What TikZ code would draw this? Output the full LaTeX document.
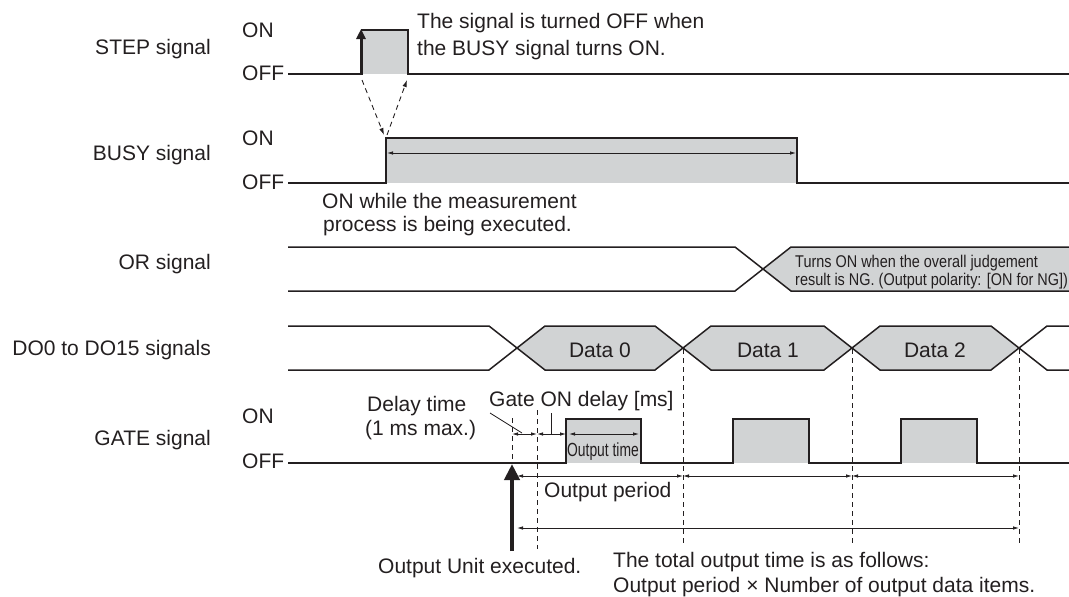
\documentclass[tikz,border=0pt]{standalone}
\usepackage{fontspec}
\setmainfont{Liberation Sans}
\newfontfamily\narrowA[FakeStretch=0.85]{Liberation Sans}
\newfontfamily\narrowB[FakeStretch=0.73]{Liberation Sans}
\usetikzlibrary{arrows.meta}
\definecolor{ink}{HTML}{231F20}
\definecolor{sgray}{HTML}{D1D3D4}
\begin{document}
\begin{tikzpicture}[x=1pt,y=-1pt,
  sig/.style={draw=ink,line width=1.5pt,line join=miter},
  dim/.style={draw=ink,line width=0.8pt,{Latex[length=6pt,width=3.5pt]}-{Latex[length=6pt,width=3.5pt]}},
  vdash/.style={draw=ink,line width=0.9pt,dash pattern=on 5pt off 4pt},
  thin/.style={draw=ink,line width=0.8pt},
  lbl/.style={font=\fontsize{21pt}{26pt}\selectfont,text=ink,inner sep=0pt},
  orlbl/.style={font=\narrowA\fontsize{17pt}{20pt}\selectfont,text=ink,inner sep=0pt},
  otlbl/.style={font=\narrowB\fontsize{19pt}{22pt}\selectfont,text=ink,inner sep=0pt}
]
\useasboundingbox (0,0) rectangle (1069,597);

% ---------- left labels ----------
\node[lbl,anchor=base east] (lstep) at (211,54) {STEP signal};
\node[lbl,anchor=base east] (lbusy) at (211,160) {BUSY signal};
\node[lbl,anchor=base east] (lor) at (211,269) {OR signal};
\node[lbl,anchor=base east] (ldo) at (211,355) {DO0 to DO15 signals};
\node[lbl,anchor=base east] (lgate) at (211,445) {GATE signal};
\node[lbl,anchor=base west] (stepon) at (242,37) {ON};
\node[lbl,anchor=base west] (stepoff) at (242,80) {OFF};
\node[lbl,anchor=base west] (busyon) at (242,145) {ON};
\node[lbl,anchor=base west] (busyoff) at (242,189) {OFF};
\node[lbl,anchor=base west] (gateon) at (242,423) {ON};
\node[lbl,anchor=base west] (gateoff) at (242,468) {OFF};

% ---------- STEP ----------
\fill[sgray] (361,30) rectangle (408,74);
\draw[sig] (288,74) -- (361,74) (361,30) -- (408,30) -- (408,74) -- (1069,74);
\coordinate (stepbot) at (361,75);
\coordinate (steptop) at (361,29);
\draw[ink,line width=3pt,-{Triangle[length=10pt,width=9pt]}] (stepbot) -- (steptop);
\node[lbl,anchor=base west] (note1a) at (417,28) {The signal is turned OFF when};
\node[lbl,anchor=base west] (note1b) at (417,55) {the BUSY signal turns ON.};

% dashed causal arrows
\coordinate (sL) at (362,80);
\coordinate (bR1) at (384,135);
\coordinate (bR2) at (387,135);
\coordinate (sR) at (407,80);
\draw[vdash,-{Latex[length=7pt,width=4.5pt]}] (sL) -- (bR1);
\draw[vdash,-{Latex[length=7pt,width=4.5pt]}] (bR2) -- (sR);

% ---------- BUSY ----------
\fill[sgray] (386,138) rectangle (797,183);
\draw[sig] (288,183) -- (386,183) -- (386,138) -- (797,138) -- (797,183) -- (1069,183);
\coordinate (busyA) at (387,153);
\coordinate (busyB) at (796,153);
\draw[dim] (busyA) -- (busyB);
\node[lbl,anchor=base west] (note2a) at (322,208) {ON while the measurement};
\node[lbl,anchor=base west] (note2b) at (323,231) {process is being executed.};

% ---------- OR ----------
\fill[sgray] (763,269) -- (791,247) -- (1069,247) -- (1069,291) -- (791,291) -- cycle;
\draw[sig] (288,247) -- (735,247) -- (791,291) -- (1069,291);
\draw[sig] (288,291) -- (735,291) -- (791,247) -- (1069,247);
\node[orlbl,anchor=base west] (ornote1) at (795,267) {Turns ON when the overall judgement};
\node[orlbl,anchor=base west] (ornote2) at (795,285) {result is NG. (Output polarity: [ON for NG])};

% ---------- DO ----------
\draw[sig,fill=sgray] (517,348) -- (545,326) -- (655,326) -- (683,348) -- (655,370) -- (545,370) -- cycle;
\draw[sig,fill=sgray] (683,348) -- (711,326) -- (824,326) -- (852,348) -- (824,370) -- (711,370) -- cycle;
\draw[sig,fill=sgray] (852,348) -- (880,326) -- (991,326) -- (1019,348) -- (991,370) -- (880,370) -- cycle;
\draw[sig] (288,326) -- (489,326) -- (517,348);
\draw[sig] (288,370) -- (489,370) -- (517,348);
\draw[sig] (1019,348) -- (1047,326) -- (1069,326);
\draw[sig] (1019,348) -- (1047,370) -- (1069,370);
\node[lbl,anchor=base] (d0) at (600,357) {Data 0};
\node[lbl,anchor=base] (d1) at (768,357) {Data 1};
\node[lbl,anchor=base] (d2) at (935,357) {Data 2};

% ---------- GATE ----------
\fill[sgray] (566,419) rectangle (641,463);
\fill[sgray] (733,419) rectangle (809,463);
\fill[sgray] (901,419) rectangle (977,463);
\draw[sig] (288,463) -- (566,463) -- (566,419) -- (641,419) -- (641,463)
  -- (733,463) -- (733,419) -- (809,419) -- (809,463)
  -- (901,463) -- (901,419) -- (977,419) -- (977,463) -- (1069,463);

% guide lines
\draw[vdash] (512,418) -- (512,463);
\draw[vdash] (537,410) -- (537,549);
\draw[vdash] (683,349) -- (683,543);
\draw[vdash] (852,349) -- (852,543);
\draw[vdash] (1019,349) -- (1019,543);

% small dimension arrows
\coordinate (dl0) at (512,434);
\coordinate (dl1) at (537,434);
\coordinate (dl2) at (566,434);
\coordinate (ot0) at (569,434);
\coordinate (ot1) at (639,434);
\draw[dim] (dl0) -- (dl1);
\draw[dim] (dl1) -- (dl2);
\draw[dim] (ot0) -- (ot1);
\node[otlbl,anchor=base] (otime) at (603,456) {Output time};

% leaders
\coordinate (ldA) at (490,413);
\coordinate (ldB) at (522,433);
\coordinate (lgA) at (551,413);
\coordinate (lgB) at (551,434);
\draw[thin] (ldA) -- (ldB);
\draw[thin] (lgA) -- (lgB);
\node[lbl,anchor=base west] (delay1) at (367,411) {Delay time};
\node[lbl,anchor=base west] (delay2) at (365,435) {(1 ms max.)};
\node[lbl,anchor=base west] (gatedelay) at (489,406) {Gate ON delay [ms]};

% output period arrows
\coordinate (p0) at (517,476);
\coordinate (p1) at (683,476);
\coordinate (p2) at (852,476);
\coordinate (p3) at (1019,476);
\draw[dim] (p0) -- (p1);
\draw[dim] (p1) -- (p2);
\draw[dim] (p2) -- (p3);
\node[lbl,anchor=base west] (operiod) at (544,497) {Output period};

\coordinate (t0) at (517,528);
\coordinate (t1) at (1019,528);
\draw[dim] (t0) -- (t1);

% big arrow
\coordinate (bigbot) at (512,551);
\coordinate (bigtop) at (512,464);
\draw[ink,line width=4.5pt,-{Triangle[length=16pt,width=15pt]}] (bigbot) -- (bigtop);

\node[lbl,anchor=base west] (oue) at (378,573) {Output Unit executed.};
\node[lbl,anchor=base west] (tot1) at (613,567) {The total output time is as follows:};
\node[lbl,anchor=base west] (tot2) at (613,592) {Output period × Number of output data items.};
\end{tikzpicture}
\end{document}
